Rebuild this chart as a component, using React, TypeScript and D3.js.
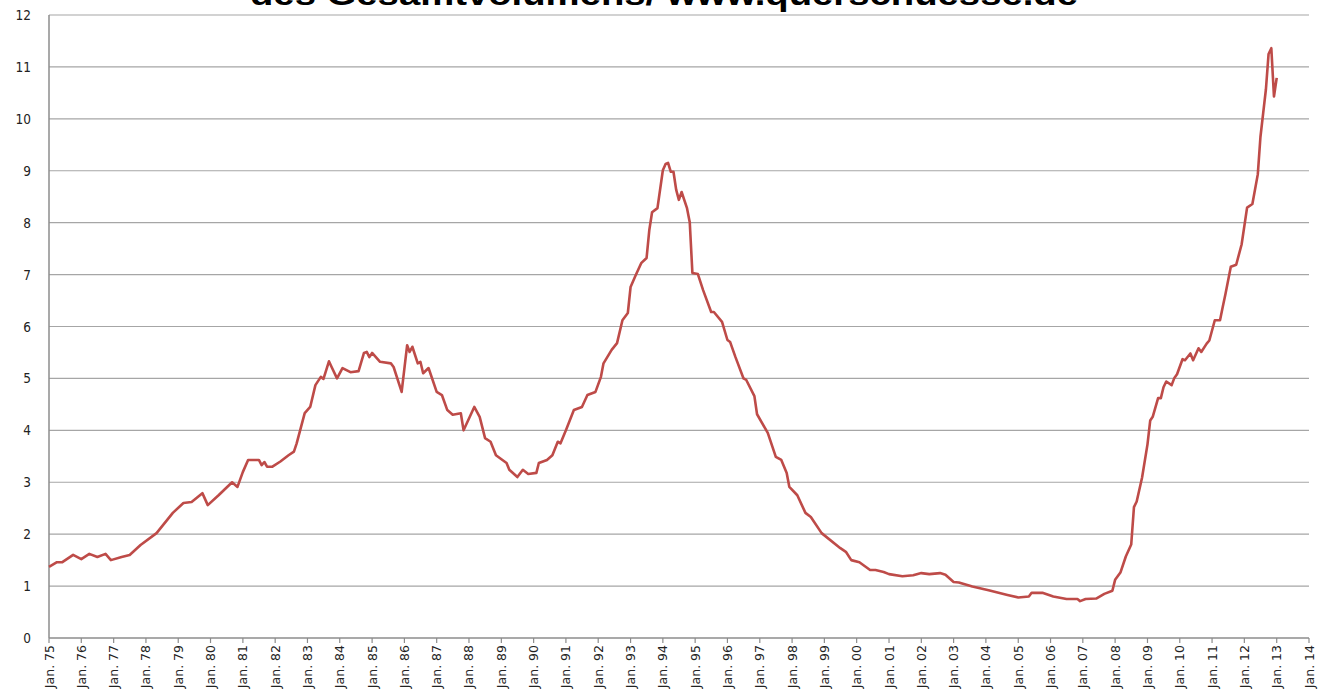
import * as d3 from "d3";

// monthly readings (YYYY-MM) and values
const dates = [
  "1975-01","1975-04","1975-06","1975-10","1976-01","1976-04","1976-07","1976-10","1976-12",
  "1977-04","1977-07","1977-11","1978-05","1978-11","1979-03","1979-06","1979-10","1979-12",
  "1980-04","1980-09","1980-11","1981-01","1981-03","1981-07","1981-08","1981-09","1981-10","1981-12",
  "1982-03","1982-06","1982-08","1982-09","1982-12","1983-02","1983-04","1983-06","1983-07","1983-09",
  "1983-10","1983-12","1984-02","1984-05","1984-08","1984-10","1984-11","1984-12","1985-01","1985-04",
  "1985-08","1985-09","1985-12","1986-02","1986-03","1986-04","1986-06","1986-07","1986-08","1986-10",
  "1987-01","1987-03","1987-05","1987-07","1987-10","1987-11","1988-03","1988-05","1988-07","1988-09",
  "1988-11","1989-03","1989-04","1989-07","1989-09","1989-11","1990-02","1990-03","1990-06","1990-08",
  "1990-10","1990-11","1991-01","1991-04","1991-07","1991-09","1991-12","1992-02","1992-03","1992-06",
  "1992-08","1992-10","1992-12","1993-01","1993-03","1993-05","1993-07","1993-08","1993-09","1993-11",
  "1994-01","1994-02","1994-03","1994-04","1994-05","1994-06","1994-07","1994-08","1994-10","1994-11",
  "1994-12","1995-02","1995-04","1995-07","1995-08","1995-11","1996-01","1996-02","1996-04","1996-07",
  "1996-08","1996-11","1996-12","1997-04","1997-07","1997-09","1997-11","1997-12","1998-03","1998-06",
  "1998-08","1998-12","1999-07","1999-09","1999-11","2000-02","2000-06","2000-08","2000-11","2001-01",
  "2001-06","2001-10","2002-01","2002-04","2002-08","2002-10","2003-01","2003-03","2003-08","2004-02",
  "2004-09","2005-01","2005-05","2005-06","2005-10","2006-02","2006-07","2006-11","2006-12","2007-02",
  "2007-06","2007-09","2007-12","2008-01","2008-03","2008-05","2008-07","2008-08","2008-09","2008-11",
  "2009-01","2009-02","2009-03","2009-05","2009-06","2009-07","2009-08","2009-10","2009-11","2009-12",
  "2010-02","2010-03","2010-05","2010-06","2010-08","2010-09","2010-11","2010-12","2011-02","2011-04",
  "2011-05","2011-06","2011-08","2011-10","2011-12","2012-02","2012-04","2012-06","2012-07","2012-08",
  "2012-09","2012-10","2012-11","2012-12","2013-01",
];

const values = [
  1.37,1.46,1.46,1.60,1.52,1.62,1.56,1.62,1.50,
  1.56,1.60,1.79,2.02,2.41,2.60,2.62,2.79,2.56,
  2.75,3.00,2.91,3.20,3.43,3.43,3.33,3.39,3.30,3.30,
  3.40,3.52,3.59,3.75,4.33,4.45,4.87,5.03,4.99,5.33,
  5.22,5.00,5.20,5.12,5.14,5.49,5.51,5.41,5.49,5.32,
  5.29,5.22,4.74,5.64,5.51,5.61,5.29,5.32,5.10,5.20,
  4.74,4.68,4.39,4.30,4.33,4.00,4.45,4.26,3.85,3.78,
  3.52,3.37,3.24,3.10,3.24,3.16,3.18,3.37,3.43,3.52,
  3.78,3.75,4.00,4.39,4.45,4.68,4.74,5.03,5.29,5.55,
  5.68,6.12,6.26,6.76,6.99,7.22,7.32,7.86,8.20,8.28,
  9.01,9.13,9.15,8.98,8.98,8.63,8.44,8.59,8.28,8.01,
  7.03,7.01,6.70,6.28,6.28,6.09,5.74,5.70,5.41,5.00,
  4.97,4.66,4.31,3.95,3.49,3.43,3.18,2.91,2.75,2.41,
  2.33,2.02,1.73,1.66,1.50,1.46,1.31,1.31,1.27,1.23,
  1.19,1.21,1.25,1.23,1.25,1.22,1.08,1.07,0.99,0.92,
  0.83,0.78,0.80,0.87,0.87,0.80,0.75,0.75,0.71,0.75,
  0.76,0.85,0.91,1.12,1.26,1.57,1.80,2.52,2.63,3.09,
  3.73,4.19,4.26,4.62,4.62,4.83,4.94,4.87,5.01,5.08,
  5.37,5.35,5.48,5.35,5.58,5.51,5.67,5.73,6.12,6.12,
  6.37,6.62,7.15,7.19,7.58,8.29,8.36,8.93,9.65,10.11,
  10.57,11.25,11.36,10.43,10.79,
];

const yTicks = [0, 1, 2, 3, 4, 5, 6, 7, 8, 9, 10, 11, 12];
const xTickYears = d3.range(1975, 2015);

const title = "des Gesamtvolumens/ www.querschuesse.de";

const W = 1335;
const H = 696;
const left = 49;
const right = 1309;
const top = 15;
const bottom = 638;

export default function App() {
  const parse = d3.timeParse("%Y-%m");
  const data = dates.map((d, i) => ({ date: parse(d) as Date, value: values[i] }));

  const x = d3.scaleTime()
    .domain([new Date(1975, 0, 1), new Date(2014, 0, 1)])
    .range([left, right]);
  const y = d3.scaleLinear().domain([0, 12]).range([bottom, top]);

  const line = d3.line<{ date: Date; value: number }>()
    .x(d => x(d.date))
    .y(d => y(d.value));

  return (
    <div style={{ position: "absolute", left: 0, top: 0, background: "#fff" }}>
      <svg width={W} height={H} style={{ display: "block" }}>
        <rect width={W} height={H} fill="#fff" />

        {/* title, cropped at the top edge as in the source */}
        <text
          x={664}
          y={5}
          textAnchor="middle"
          fontFamily="'Liberation Sans', Arial, sans-serif"
          fontWeight="bold"
          fontSize={31}
          textLength={828}
          lengthAdjust="spacingAndGlyphs"
          fill="#000"
        >
          {title}
        </text>

        {/* grid */}
        {yTicks.filter(t => t > 0).map(t => (
          <line key={t} x1={left} x2={right} y1={y(t)} y2={y(t)} stroke="#a6a6a6" strokeWidth={1.2} />
        ))}

        {/* axes */}
        <line x1={left} x2={left} y1={top} y2={bottom} stroke="#8c8c8c" strokeWidth={1.5} />
        <line x1={left} x2={right} y1={bottom} y2={bottom} stroke="#8c8c8c" strokeWidth={1.5} />

        {yTicks.map(t => (
          <text
            key={t}
            x={31}
            y={y(t) + 5}
            textAnchor="end"
            fontFamily="'DejaVu Sans Condensed', 'DejaVu Sans', sans-serif"
            fontSize={13.5}
            fill="#222"
          >
            {t}
          </text>
        ))}

        {xTickYears.map(yr => {
          const xx = x(new Date(yr, 0, 1));
          const lab = "Jan. " + String(yr % 100).padStart(2, "0");
          return (
            <g key={yr}>
              <line x1={xx} x2={xx} y1={bottom} y2={bottom + 5} stroke="#8c8c8c" strokeWidth={1.2} />
              <text
                transform={`translate(${xx + 4.5},${bottom + 7}) rotate(-90)`}
                textAnchor="end"
                fontFamily="'DejaVu Sans', Verdana, sans-serif"
                fontSize={12.5}
                fill="#222"
              >
                {lab}
              </text>
            </g>
          );
        })}

        <path
          d={line(data) ?? ""}
          fill="none"
          stroke="#be4b48"
          strokeWidth={2.6}
          strokeLinejoin="round"
        />
      </svg>
    </div>
  );
}
